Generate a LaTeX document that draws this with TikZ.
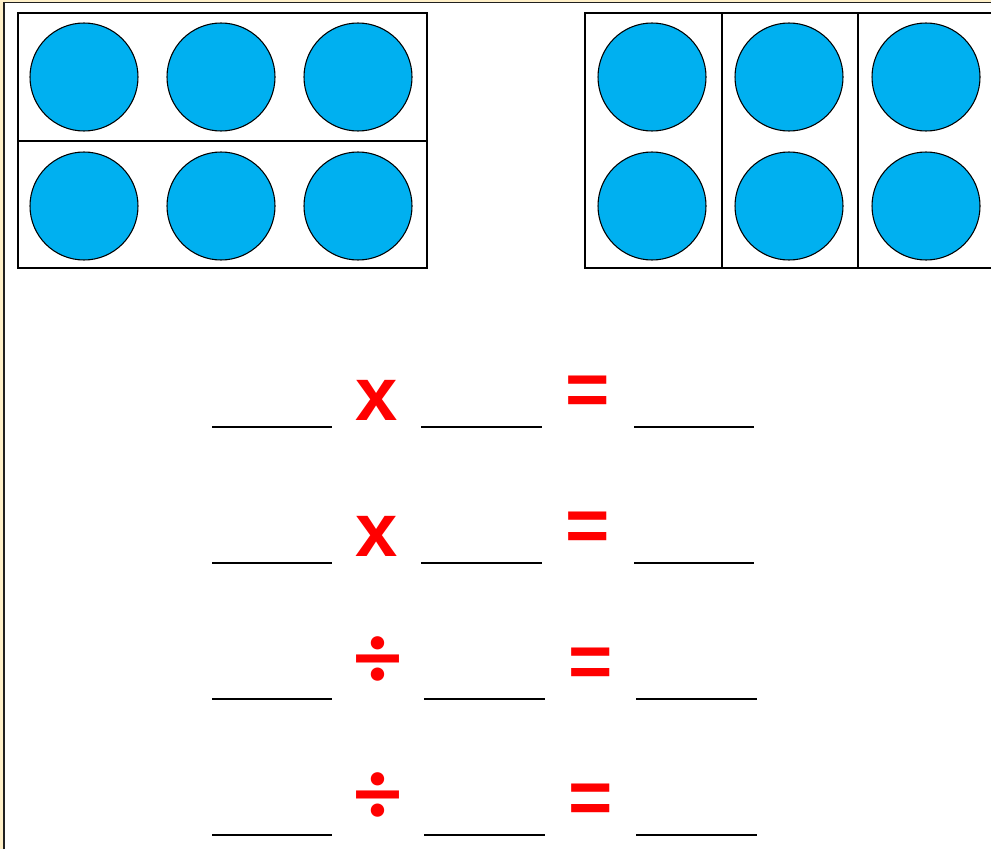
\documentclass[tikz,border=0pt]{standalone}
\usepackage{fontspec}
\setmainfont{Liberation Sans}
\newfontfamily\divfont{Lato}
\usetikzlibrary{positioning}
\definecolor{dotblue}{HTML}{00B0F0}
\definecolor{signred}{HTML}{FF0000}
\definecolor{framecream}{HTML}{FFF0C8}
\definecolor{framedark}{HTML}{202020}

\begin{document}
\begin{tikzpicture}[x=0.75pt,y=-0.75pt,
    counter/.style={draw=black,fill=dotblue,line width=0.8pt},
    tray/.style={draw=black,line width=2.2pt},
    blank/.style={draw=black,line width=2.2pt},
    sign/.style={text=signred,inner sep=0pt,font=\bfseries\fontsize{57}{57}\selectfont}]
    \useasboundingbox (0,0) rectangle (991,849);
    \begin{scope}
    \clip (0,0) rectangle (991,849);
    % page frame
    \fill[framecream] (0,0) rectangle (3.5,849);
    \fill[framecream] (0,0) rectangle (991,1.8);
    \draw[framedark,line width=1.2pt] (4.2,849) -- (4.2,2.6) -- (991,2.6);
    % two rows of three
    \foreach \cx in {84,221,358}
      \foreach \cy in {77,206}
        \draw[counter] (\cx,\cy) circle (54);
    \draw[tray] (18,13) rectangle (427,268);
    \draw[tray] (18,141) -- (427,141);
    % three columns of two
    \foreach \cx in {652,789,926}
      \foreach \cy in {77,206}
        \draw[counter] (\cx,\cy) circle (54);
    \draw[tray] (585,13) rectangle (995,268);
    \draw[tray] (722,13) -- (722,268);
    \draw[tray] (858,13) -- (858,268);
    \end{scope}
    % number sentences
    \foreach \row/\yy in {1/427,2/563}{
      \draw[blank] (212,\yy) -- (332,\yy);
      \draw[blank] (421,\yy) -- (542,\yy);
      \draw[blank] (634,\yy) -- (754,\yy);
      \node[sign] (times\row) at (377,\yy-27) {x};
      \node[sign] (equals\row) at (587.5,\yy-31) {=};
    }
    \foreach \row/\yy in {3/699,4/835}{
      \draw[blank] (212,\yy) -- (332,\yy);
      \draw[blank] (424,\yy) -- (545,\yy);
      \draw[blank] (636,\yy) -- (757,\yy);
      \node[sign,font=\divfont\bfseries\fontsize{66}{66}\selectfont] (divide\row) at (378.5,\yy-36) {÷};
      \node[sign] (equals\row) at (590.5,\yy-31) {=};
    }
\end{tikzpicture}
\end{document}
